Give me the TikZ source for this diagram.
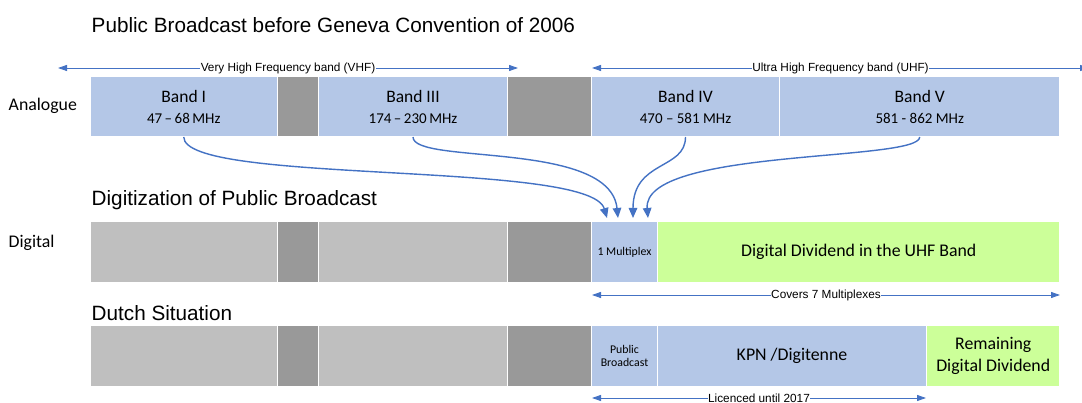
\documentclass[tikz,border=0pt]{standalone}
\usepackage{fontspec}
\setmainfont{Carlito}
\newfontfamily\arial{Liberation Sans}
\usetikzlibrary{arrows.meta,calc}
\definecolor{bandblue}{HTML}{B4C7E7}
\definecolor{lightgrey}{HTML}{BFBFBF}
\definecolor{darkgrey}{HTML}{999999}
\definecolor{dividend}{HTML}{CCFF99}
\definecolor{link}{HTML}{4472C4}
\newcommand{\freqtext}[1]{{\fontsize{15}{21}\selectfont #1}}
\begin{document}
\begin{tikzpicture}[x=1pt,y=-1pt,
  seg/.style={draw=white,line width=1.2pt,inner sep=0pt,outer sep=0pt,
    anchor=north west,align=center,text=black},
  rowA/.style={seg,minimum height=61pt,font=\fontsize{17.5}{21}\selectfont},
  rowB/.style={seg,minimum height=62pt},
  bigtext/.style={font=\fontsize{17.8}{22}\selectfont},
  smalltext/.style={font=\fontsize{11.8}{13.8}\selectfont},
  heading/.style={anchor=west,inner sep=0pt,font=\arial\fontsize{20.7}{24}\selectfont},
  rowlabel/.style={anchor=west,inner sep=0pt,font=\fontsize{17.8}{21}\selectfont},
  conn/.style={draw=link,line width=1.4pt,-{Triangle[length=10pt,width=8.5pt]}},
  span/.style={draw=link,line width=0.9pt,
    {Triangle[length=9pt,width=6pt]}-{Triangle[length=9pt,width=6pt]}},
  spanlabel/.style={fill=white,inner sep=0.6pt,text=black,
    font=\arial\fontsize{11.8}{13}\selectfont},
]
\useasboundingbox[fill=white] (0,0) rectangle (1082,403);

% headings and row labels
\node[heading] (h1) at (91.5,25) {Public Broadcast before Geneva Convention of 2006};
\node[heading] (h2) at (91.5,200) {Digitization of Public Broadcast};
\node[heading] (h3) at (91.5,313) {Dutch Situation};
\node[rowlabel] (lab1) at (8.5,106) {Analogue};
\node[rowlabel] (lab2) at (8.5,243) {Digital};

% analogue bands
\node[rowA,fill=bandblue,minimum width=187.5pt] (b1) at (90,76)
  {Band I\\\freqtext{47\,–\,68\,MHz}};
\node[rowA,fill=darkgrey,minimum width=41pt] (g1) at (277.5,76) {};
\node[rowA,fill=bandblue,minimum width=189pt] (b3) at (318.5,76)
  {Band III\\\freqtext{174\,–\,230\,MHz}};
\node[rowA,fill=darkgrey,minimum width=84pt] (g2) at (507.5,76) {};
\node[rowA,fill=bandblue,minimum width=188pt] (b4) at (591.5,76)
  {Band IV\\\freqtext{470 – 581 MHz}};
\node[rowA,fill=bandblue,minimum width=280.5pt] (b5) at (779.5,76)
  {Band V\\\freqtext{581 - 862 MHz}};

% digital row
\node[rowB,fill=lightgrey,minimum width=187.5pt] (d1) at (90,221) {};
\node[rowB,fill=darkgrey,minimum width=41pt] (d2) at (277.5,221) {};
\node[rowB,fill=lightgrey,minimum width=189pt] (d3) at (318.5,221) {};
\node[rowB,fill=darkgrey,minimum width=84pt] (d4) at (507.5,221) {};
\node[rowB,smalltext,fill=bandblue,minimum width=66pt] (mux) at (591.5,221) {1 Multiplex};
\node[rowB,bigtext,fill=dividend,minimum width=402.5pt] (dd) at (657.5,221) {Digital Dividend in the UHF Band};

% dutch row
\node[rowB,fill=lightgrey,minimum width=187.5pt] (n1) at (90,325) {};
\node[rowB,fill=darkgrey,minimum width=41pt] (n2) at (277.5,325) {};
\node[rowB,fill=lightgrey,minimum width=189pt] (n3) at (318.5,325) {};
\node[rowB,fill=darkgrey,minimum width=84pt] (n4) at (507.5,325) {};
\node[rowB,smalltext,fill=bandblue,minimum width=66pt] (pb) at (591.5,325) {Public\\Broadcast};
\node[rowB,bigtext,fill=bandblue,minimum width=269pt] (kpn) at (657.5,325) {KPN /Digitenne};
\node[rowB,bigtext,fill=dividend,minimum width=133.5pt] (rem) at (926.5,325) {Remaining\\Digital Dividend};

% band spans
\coordinate (vhfL) at (58,68);
\coordinate (vhfR) at (518,68);
\coordinate (uhfL) at (592,68);
\coordinate (uhfR) at (1089,68);
\coordinate (covL) at (592,295);
\coordinate (covR) at (1060,295);
\coordinate (licL) at (592,398);
\coordinate (licR) at (926,398);
\draw[span] (vhfL) -- node[spanlabel] (vhf) {Very High Frequency band (VHF)} (vhfR);
\draw[span] (uhfL) -- node[spanlabel] (uhf) {Ultra High Frequency band (UHF)} (uhfR);
\draw[span] (covL) -- node[spanlabel] (cov) {Covers 7 Multiplexes} (covR);
\draw[span] (licL) -- node[spanlabel] (lic) {Licenced until 2017} (licR);

% every analogue band folds into one multiplex
\coordinate (t1) at ($(mux.north)+(-17.5,-3)$);
\coordinate (t2) at ($(mux.north)+(-6.5,-3)$);
\coordinate (t3) at ($(mux.north)+(8.5,-3)$);
\coordinate (t4) at ($(mux.north)+(23.5,-3)$);
\draw[conn] (b1.south) .. controls ($(b1.south)+(0,48)$) and ($(t1)+(-17,-58)$) .. (t1);
\draw[conn] (b3.south) .. controls ($(b3.south)+(0,28)$) and ($(t2)+(-8,-78)$) .. (t2);
\draw[conn] (b4.south) .. controls ($(b4.south)+(0,33)$) and ($(t3)+(0,-58)$) .. (t3);
\draw[conn] (b5.south) .. controls ($(b5.south)+(0,25)$) and ($(t4)+(-6,-70)$) .. (t4);
\end{tikzpicture}
\end{document}
